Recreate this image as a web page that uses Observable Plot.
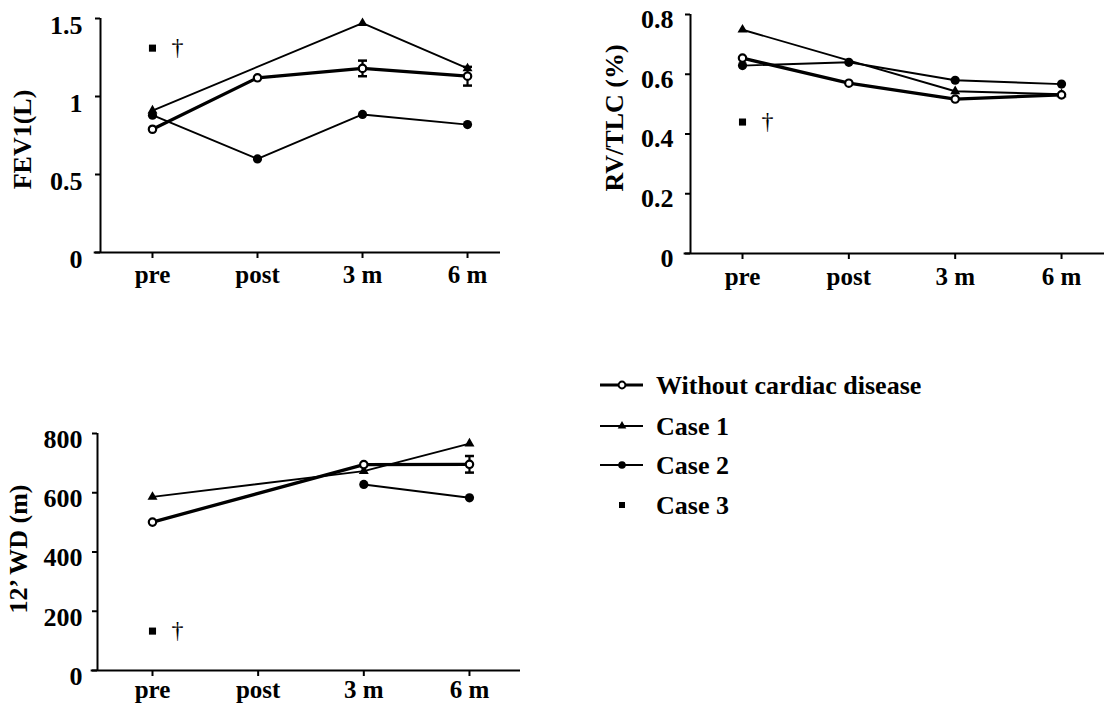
<!DOCTYPE html>
<html><head><meta charset="utf-8">
<script src="https://cdn.jsdelivr.net/npm/d3@7"></script>
<script src="https://cdn.jsdelivr.net/npm/@observablehq/plot@0.6"></script>
<style>
html,body{margin:0;padding:0;background:#fff;}
#root{position:relative;width:1104px;height:705px;overflow:hidden;background:#fff;}
#root > svg{position:absolute;}
</style></head><body><div id="root"></div>
<script>
const timepoints = ["pre", "post", "3 m", "6 m"];
const seriesNames = ["Without cardiac disease", "Case 1", "Case 2", "Case 3"];

// FEV1 (L)
const fev1Without = [0.79, 1.12, 1.18, 1.13];
const fev1WithoutErr = [null, null, 0.05, 0.06];
const fev1Case1 = [0.91, null, 1.47, 1.18];
const fev1Case2 = [0.88, 0.60, 0.885, 0.82];
const fev1Case3 = [1.31, null, null, null];
const fev1Ticks = [0, 0.5, 1, 1.5];

// RV/TLC
const rvWithout = [0.654, 0.57, 0.517, 0.531];
const rvWithoutErr = [null, null, null, null];
const rvCase1 = [0.749, null, 0.543, 0.533];
const rvCase2 = [0.629, 0.64, 0.58, 0.567];
const rvCase3 = [0.44, null, null, null];
const rvTicks = [0, 0.2, 0.4, 0.6, 0.8];

// 12' walking distance (m)
const wdWithout = [501, null, 695, 696];
const wdWithoutErr = [null, null, null, 28];
const wdCase1 = [586, null, 673, 766];
const wdCase2 = [null, null, 628, 583];
const wdCase3 = [133, null, null, null];
const wdTicks = [0, 200, 400, 600, 800];

const FONT = '"Liberation Serif","Times New Roman",serif';
const root = document.getElementById("root");

function rows(values, err) {
  return timepoints.map((t, i) => ({i, t, v: values[i], e: err ? err[i] : null}))
    .filter(d => d.v != null);
}
const hbar = {draw(ctx, size) { const r = Math.sqrt(size / Math.PI); ctx.moveTo(-r, 0); ctx.lineTo(r, 0); }};

function panel(o) {
  const w = rows(o.without, o.err);
  const errRows = w.filter(d => d.e != null);
  const caps = errRows.flatMap(d => [{i: d.i, v: d.v - d.e}, {i: d.i, v: d.v + d.e}]);
  const c1 = rows(o.case1), c2 = rows(o.case2), c3 = rows(o.case3);
  const svg = Plot.plot({
    width: o.width, height: o.height,
    marginLeft: o.marginLeft, marginRight: 0, marginTop: o.marginTop, marginBottom: o.marginBottom,
    style: {fontFamily: FONT, fontSize: "25px", fontWeight: "bold", background: "white", overflow: "visible"},
    x: {domain: o.xDomain},
    y: {domain: o.yDomain},
    marks: [
      Plot.ruleX([o.xDomain[0]], {strokeWidth: 2}),
      Plot.ruleY([0], {x1: o.xDomain[0] - 0.06, x2: o.xDomain[1], strokeWidth: 2}),
      Plot.axisX({ticks: [0, 1, 2, 3], tickFormat: i => timepoints[i], tickSize: 6, tickPadding: o.xPad,
        fontSize: 25, fontWeight: "bold", fontFamily: FONT, strokeWidth: 2, label: null}),
      // y tick lines (no text)
      Plot.axisY({ticks: o.yTicks, tickFormat: () => "", tickSize: 5, strokeWidth: 2, label: null}),
      // y tick labels (slightly lowered, as in the original)
      Plot.axisY({ticks: o.yTicks, tickFormat: d => String(d), tickSize: 0, tickPadding: 5 + o.yPad, dy: o.yDy,
        fontSize: 26, fontWeight: "bold", fontFamily: FONT, label: null}),
      Plot.text([o.title], {frameAnchor: "left", rotate: -90, dx: o.titleDx, dy: o.titleDy,
        fontSize: 26, fontWeight: "bold", fontFamily: FONT, lineAnchor: "middle", textAnchor: "middle"}),
      // error bars
      Plot.ruleX(errRows, {x: "i", y1: d => d.v - d.e, y2: d => d.v + d.e, strokeWidth: 2.2}),
      Plot.dot(caps, {x: "i", y: "v", symbol: hbar, r: 4.5, stroke: "black", strokeWidth: 2.5, fill: "none"}),
      // lines
      Plot.line(c1, {x: "i", y: "v", stroke: "black", strokeWidth: 1.9}),
      Plot.line(c2, {x: "i", y: "v", stroke: "black", strokeWidth: 1.9}),
      Plot.line(w, {x: "i", y: "v", stroke: "black", strokeWidth: 3.3}),
      // markers
      Plot.dot(c1, {x: "i", y: "v", symbol: "triangle", r: 3.7, fill: "black", stroke: "none"}),
      Plot.dot(c2, {x: "i", y: "v", r: 4.6, fill: "black", stroke: "none"}),
      Plot.dot(w, {x: "i", y: "v", r: 3.7, fill: "white", stroke: "black", strokeWidth: 2.2}),
      Plot.dot(c3, {x: "i", y: "v", symbol: "square", r: 4, fill: "black", stroke: "none"}),
      Plot.text(c3, {x: "i", y: "v", text: () => "†", dx: 25, dy: -1, fontSize: 24, fontWeight: "normal",
        fontFamily: FONT, lineAnchor: "middle"})
    ]
  });
  svg.style.left = o.left + "px";
  svg.style.top = o.top + "px";
  root.appendChild(svg);
}

panel({left: 0, top: 0, width: 500, height: 300, marginLeft: 100, marginTop: 18, marginBottom: 48,
  xDomain: [-0.495, 3.314], yDomain: [0, 1.5], yTicks: fev1Ticks, xPad: 7, yPad: 13, yDy: 7,
  title: "FEV1(L)", titleDx: -78, titleDy: 4,
  without: fev1Without, err: fev1WithoutErr, case1: fev1Case1, case2: fev1Case2, case3: fev1Case3});

panel({left: 580, top: 0, width: 524, height: 300, marginLeft: 110, marginTop: 14, marginBottom: 47,
  xDomain: [-0.489, 3.404], yDomain: [0, 0.8], yTicks: rvTicks, xPad: 8, yPad: 12, yDy: 5,
  title: "RV/TLC (%)", titleDx: -76, titleDy: -16,
  without: rvWithout, err: rvWithoutErr, case1: rvCase1, case2: rvCase2, case3: rvCase3});

panel({left: 0, top: 410, width: 520, height: 295, marginLeft: 97, marginTop: 23, marginBottom: 35,
  xDomain: [-0.5205, 3.483], yDomain: [0, 800], yTicks: wdTicks, xPad: 4, yPad: 10, yDy: 6,
  title: "12\u2019 WD (m)", titleDx: -79, titleDy: -3,
  without: wdWithout, err: wdWithoutErr, case1: wdCase1, case2: wdCase2, case3: wdCase3});

// Legend
const legendStyle = [
  {line: 3, symbol: "circle", fill: "white", stroke: "black", r: 3.4},
  {line: 1.8, symbol: "triangle", fill: "black", stroke: "none", r: 3.2},
  {line: 1.8, symbol: "circle", fill: "black", stroke: "none", r: 3.8},
  {line: 0, symbol: "square", fill: "black", stroke: "none", r: 3.4}
];
const symMap = {circle: d3.symbolCircle, triangle: d3.symbolTriangle, square: d3.symbolSquare};
const lg = d3.select(root).append("svg").attr("width", 420).attr("height", 170)
  .style("left", "595px").style("top", "360px");
const rowY = [25, 66, 105, 145];
const items = lg.selectAll("g").data(seriesNames).join("g")
  .attr("transform", (d, k) => `translate(0,${rowY[k]})`);
items.filter((d, k) => legendStyle[k].line > 0).append("line")
  .attr("x1", 5).attr("x2", 48).attr("y1", 0).attr("y2", 0)
  .attr("stroke", "black").attr("stroke-width", d => legendStyle[seriesNames.indexOf(d)].line);
items.append("path")
  .attr("transform", "translate(27,0)")
  .attr("d", d => { const s = legendStyle[seriesNames.indexOf(d)]; return d3.symbol(symMap[s.symbol], Math.PI * s.r * s.r)(); })
  .attr("fill", d => legendStyle[seriesNames.indexOf(d)].fill)
  .attr("stroke", d => legendStyle[seriesNames.indexOf(d)].stroke)
  .attr("stroke-width", 2);
items.append("text").attr("x", 61).attr("y", 8.5).text(d => d)
  .attr("font-family", FONT).attr("font-weight", "bold").attr("font-size", 26).attr("fill", "black");
</script></body></html>
